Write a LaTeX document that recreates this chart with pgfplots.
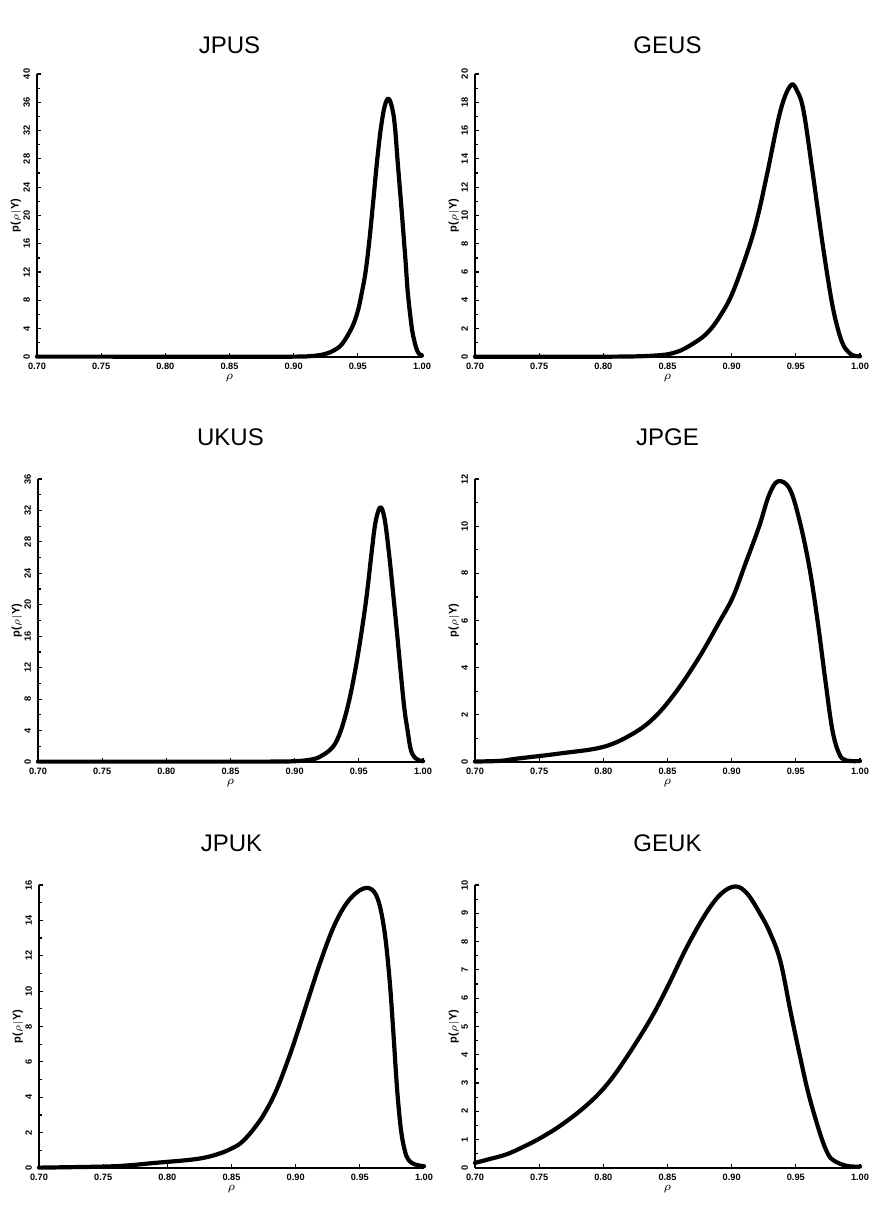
\documentclass[border=0pt]{standalone}
\usepackage{fontspec}
\setmainfont{Liberation Sans}
\usepackage{graphicx}
\usepackage{pgfplots}
\pgfplotsset{compat=1.18}
\pgfplotsset{
  panel/.style={
    width=192.5pt, height=141.5pt, scale only axis,
    xmin=0.7, xmax=1.0, ymin=0,
    enlargelimits=false, clip=false,
    axis lines=left,
    axis line style={line width=1.4pt, -},
    xtick={0.70,0.75,0.80,0.85,0.90,0.95,1.00},
    xticklabels={0.70,0.75,0.80,0.85,0.90,0.95,1.00},
    tick align=inside,
    major tick length=2.2pt, minor tick length=1.4pt,
    minor y tick num=1,
    every tick/.style={line width=0.6pt, black},
    /pgf/number format/assume math mode=true,
    tick label style={font=\bfseries\fontsize{4.6}{5.5}\selectfont},
    xticklabel style={yshift=0.5pt},
    yticklabel style={rotate=90, anchor=south, xshift=0pt},
    xlabel={$\rho$},
    xlabel style={at={(axis description cs:0.5,-0.075)}, anchor=center, font=\fontsize{6}{7}\selectfont},
    extra description/.code={\node[anchor=center, inner sep=0pt, font=\bfseries\fontsize{5.5}{7}\selectfont] at (-0.055,0.5) {\rotatebox{90}{p($\rho|$Y)}};},
    title style={anchor=base, at={(axis description cs:0.5,1)}, font=\fontsize{12}{14}\selectfont},
  },
  curve/.style={black, line width=2.1pt, smooth, tension=0.6, line join=round, line cap=round}
}
\begin{document}
\begin{tikzpicture}
\path (0,0) rectangle (439pt,606pt);
% JPUS
\begin{axis}[panel, at={(18.5pt,427.5pt)}, anchor=south west, ymax=40, ytick={0,4,...,40}, title={JPUS}, title style={yshift=4pt}]
\addplot[curve] coordinates {(0.700,0.05)(0.750,0.05)(0.800,0.04)(0.850,0.03)(0.900,0.05)(0.915,0.15)(0.925,0.45)(0.932,1.0)(0.938,1.9)(0.9455,4.2)(0.950,6.5)(0.953,9)(0.956,12)(0.959,16.5)(0.962,22)(0.965,27.7)(0.968,32.4)(0.971,35.5)(0.974,36.5)(0.977,35)(0.979,32.4)(0.981,27.7)(0.984,21)(0.987,14)(0.989,9)(0.992,4.2)(0.994,2.3)(0.996,1)(0.998,0.4)(1.000,0.2)};
\end{axis}
% GEUS
\begin{axis}[panel, at={(237.5pt,427.5pt)}, anchor=south west, ymax=20, ytick={0,2,...,20}, title={GEUS}, title style={yshift=4pt}]
\addplot[curve] coordinates {(0.70,0.02)(0.80,0.02)(0.84,0.1)(0.857,0.35)(0.87,0.95)(0.881,1.7)(0.891,2.9)(0.901,4.6)(0.914,7.9)(0.921,10.2)(0.928,13.1)(0.938,17.4)(0.946,19.2)(0.951,18.8)(0.956,17.4)(0.963,13.1)(0.971,7.9)(0.978,3.9)(0.983,1.9)(0.987,0.85)(0.991,0.35)(0.995,0.1)(1.00,0.05)};
\end{axis}
% UKUS
\begin{axis}[panel, at={(19pt,225pt)}, anchor=south west, ymax=36, ytick={0,4,...,36}, title={UKUS}, title style={yshift=10.5pt}]
\addplot[curve] coordinates {(0.70,0.05)(0.80,0.05)(0.88,0.05)(0.90,0.1)(0.9125,0.3)(0.92,0.7)(0.9297,1.9)(0.936,4)(0.942,7.5)(0.947,11.5)(0.9516,16)(0.956,21)(0.960,26.7)(0.963,30.5)(0.9667,32.4)(0.970,31)(0.9734,26.7)(0.977,21)(0.980,16)(0.985,7.5)(0.988,4)(0.9906,1.5)(0.994,0.5)(0.997,0.2)(1.00,0.1)};
\end{axis}
% JPGE
\begin{axis}[panel, at={(237.5pt,225pt)}, anchor=south west, ymax=12, ytick={0,2,...,12}, title={JPGE}, title style={yshift=10.5pt}]
\addplot[curve] coordinates {(0.70,0.02)(0.72,0.05)(0.7324,0.14)(0.766,0.36)(0.80,0.64)(0.823,1.2)(0.840,1.9)(0.857,3.0)(0.875,4.47)(0.890,5.9)(0.901,7.0)(0.911,8.45)(0.9215,10.0)(0.929,11.3)(0.936,11.9)(0.945,11.6)(0.9526,10.3)(0.9604,8.3)(0.9668,6.04)(0.9733,3.34)(0.9785,1.35)(0.9837,0.36)(0.9889,0.07)(1.0,0.04)};
\end{axis}
% JPUK
\begin{axis}[panel, at={(19.5pt,22pt)}, anchor=south west, ymax=16, ytick={0,2,...,16}, title={JPUK}, title style={yshift=10.5pt}]
\addplot[curve] coordinates {(0.70,0.02)(0.75,0.08)(0.77,0.15)(0.789,0.28)(0.816,0.45)(0.83,0.6)(0.842,0.85)(0.85,1.1)(0.857,1.4)(0.865,2.0)(0.875,3.0)(0.885,4.4)(0.895,6.3)(0.902,7.8)(0.91,9.6)(0.92,11.8)(0.93,13.7)(0.94,15.0)(0.95,15.7)(0.958,15.8)(0.964,15.2)(0.969,13.5)(0.973,10.8)(0.976,7.8)(0.979,4.5)(0.982,2.2)(0.985,1.0)(0.988,0.45)(0.993,0.2)(1.00,0.1)};
\end{axis}
% GEUK
\begin{axis}[panel, at={(237.5pt,22pt)}, anchor=south west, ymax=10, ytick={0,1,...,10}, minor y tick num=1, title={GEUK}, title style={yshift=10.5pt}]
\addplot[curve] coordinates {(0.70,0.18)(0.71,0.3)(0.725,0.49)(0.74,0.8)(0.751,1.06)(0.766,1.48)(0.784,2.1)(0.80,2.8)(0.815,3.7)(0.836,5.2)(0.85,6.4)(0.865,7.8)(0.88,9.0)(0.892,9.7)(0.903,9.95)(0.912,9.7)(0.922,9.0)(0.93,8.3)(0.938,7.3)(0.946,5.5)(0.953,4.0)(0.96,2.6)(0.969,1.2)(0.975,0.5)(0.98,0.25)(0.99,0.07)(1.00,0.05)};
\end{axis}
\end{tikzpicture}
\end{document}
